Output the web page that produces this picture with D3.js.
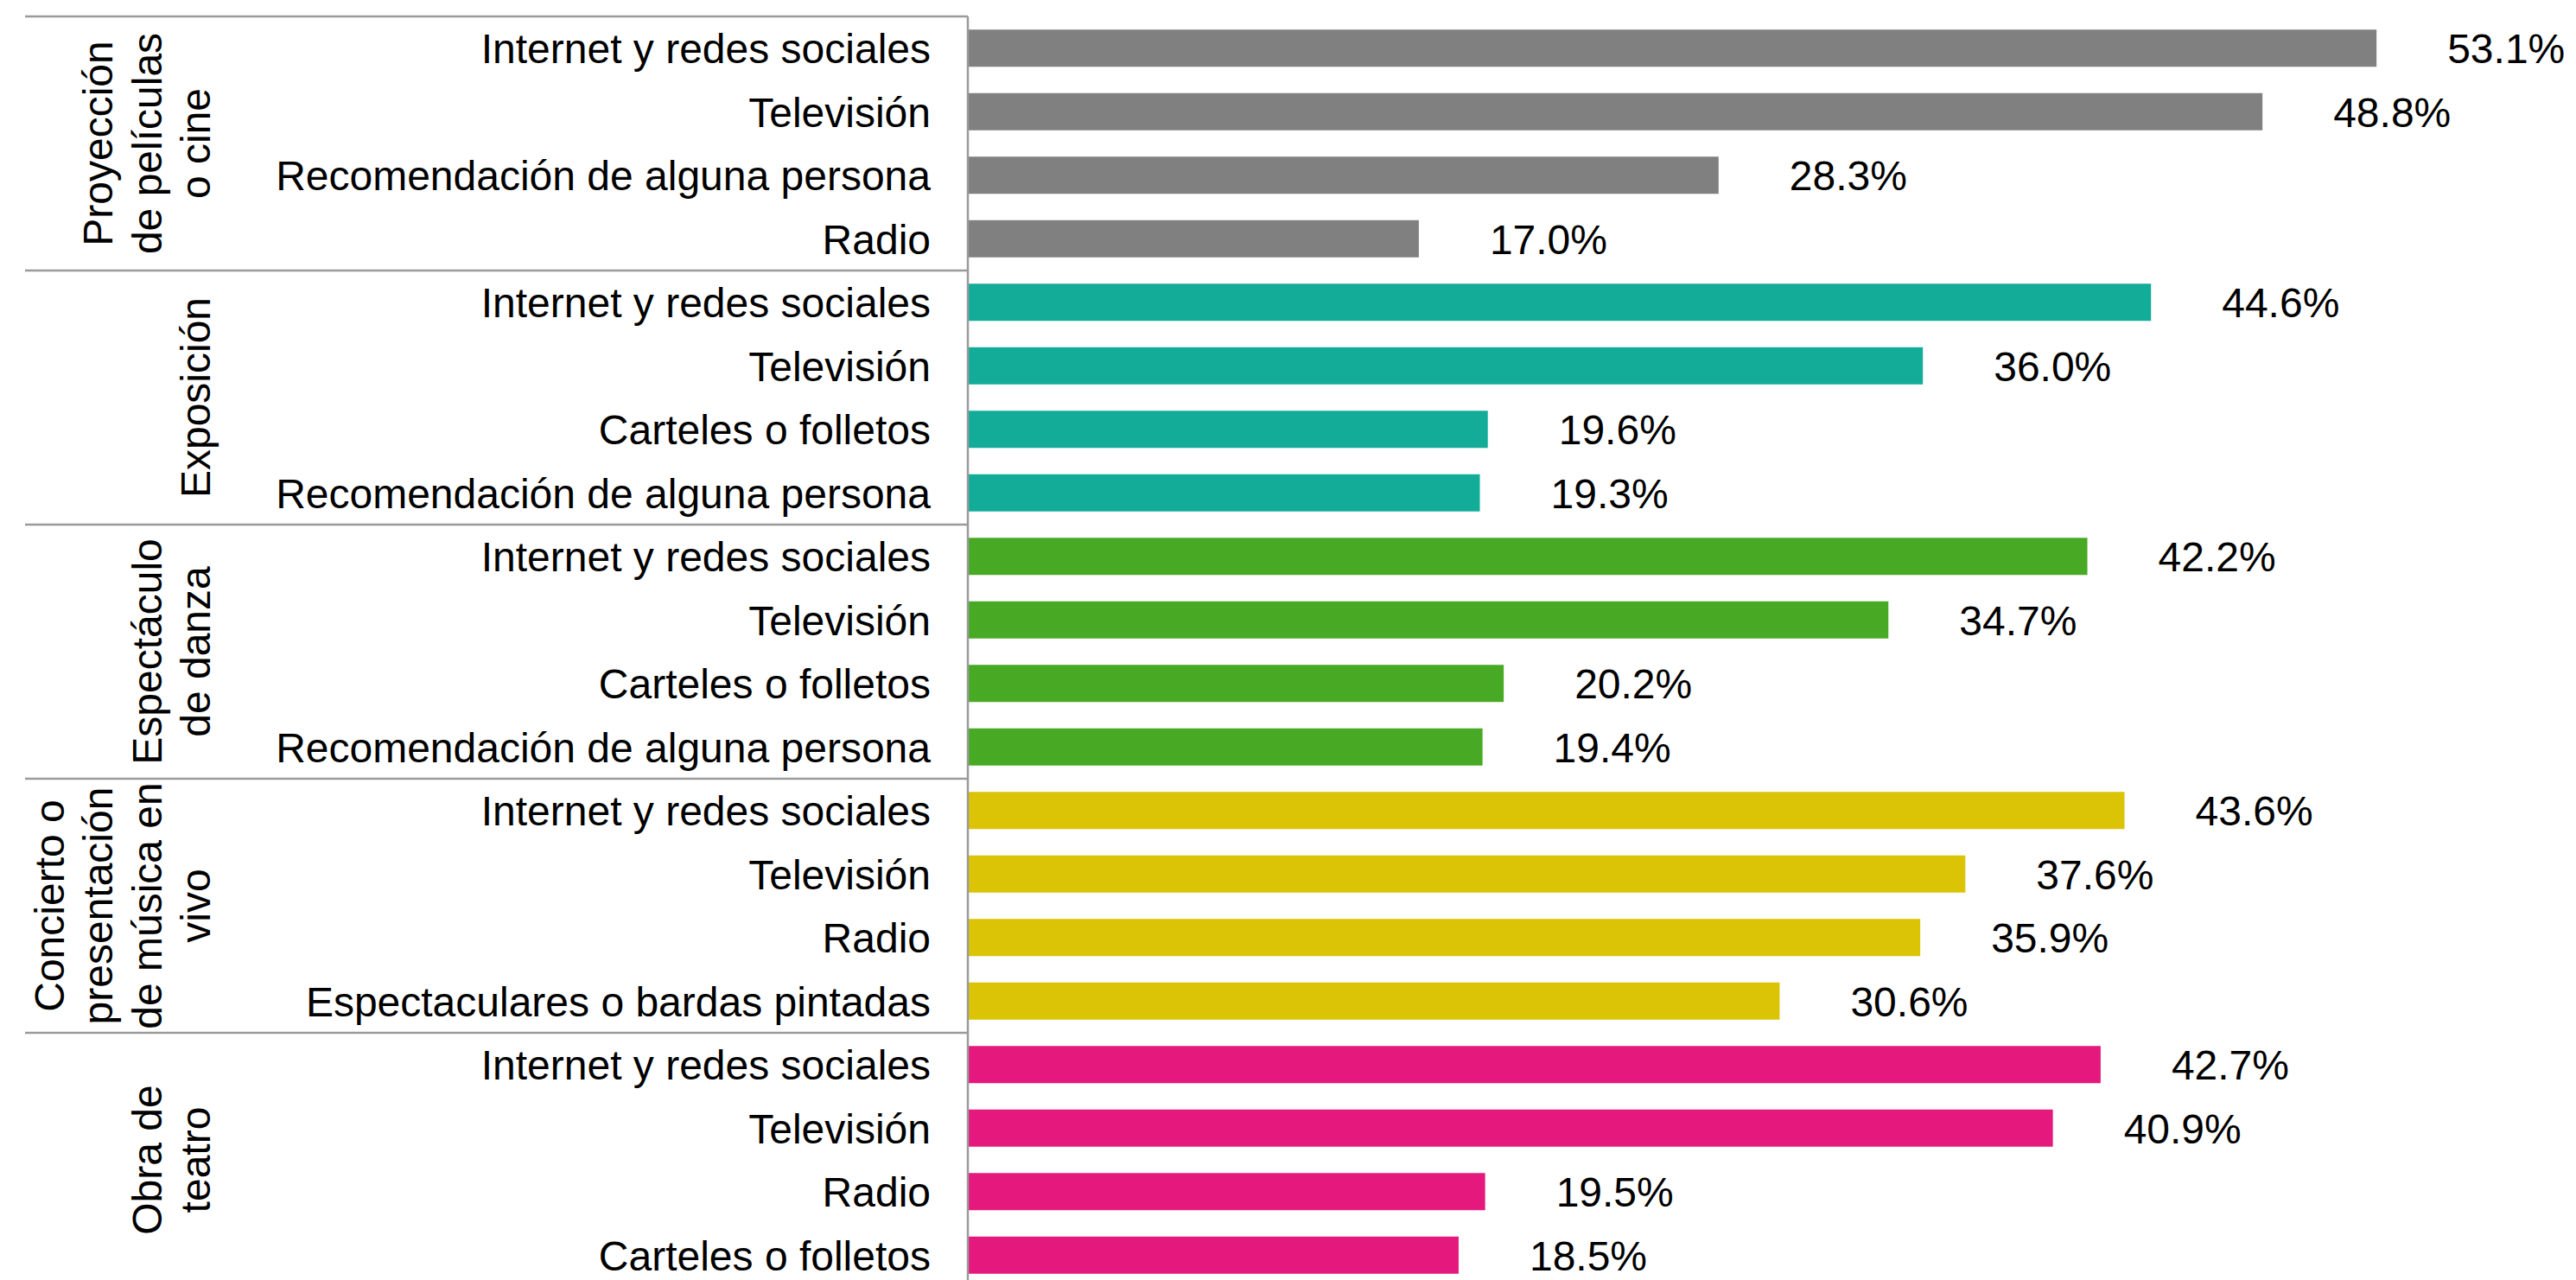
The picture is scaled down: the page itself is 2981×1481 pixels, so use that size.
<!DOCTYPE html>
<html>
<head>
<meta charset="utf-8">
<script src="https://cdn.jsdelivr.net/npm/d3@7"></script>
<style>
  body { margin: 0; background: #fff; }
  text { font-family: "Liberation Sans", Arial, sans-serif; fill: #000; }
</style>
</head>
<body>
<div id="chart"></div>
<script>
// groups (multi-line rotated labels) and their colours
var groups = [
  ["Proyección", "de películas", "o cine"],
  ["Exposición"],
  ["Espectáculo", "de danza"],
  ["Concierto o", "presentación", "de música en", "vivo"],
  ["Obra de", "teatro"]
];
var groupColors = ["#808080", "#12ac99", "#48aa24", "#dac405", "#e5197d"];

// categories per group
var categories = [
  ["Internet y redes sociales", "Televisión", "Recomendación de alguna persona", "Radio"],
  ["Internet y redes sociales", "Televisión", "Carteles o folletos", "Recomendación de alguna persona"],
  ["Internet y redes sociales", "Televisión", "Carteles o folletos", "Recomendación de alguna persona"],
  ["Internet y redes sociales", "Televisión", "Radio", "Espectaculares o bardas pintadas"],
  ["Internet y redes sociales", "Televisión", "Radio", "Carteles o folletos"]
];

// percentages per group
var values = [
  [53.1, 48.8, 28.3, 17.0],
  [44.6, 36.0, 19.6, 19.3],
  [42.2, 34.7, 20.2, 19.4],
  [43.6, 37.6, 35.9, 30.6],
  [42.7, 40.9, 19.5, 18.5]
];

var width = 2981,
    height = 1481;

var top0 = 19, bottom0 = 1489,
    axisX = 1120, leftX = 29;

// flatten into rows
var rows = [];
groups.forEach(function(g, gi) {
  categories[gi].forEach(function(c, ci) {
    rows.push({group: gi, cat: c, value: values[gi][ci], id: gi + "-" + ci});
  });
});

var svg = d3.select("#chart").append("svg")
    .attr("width", width)
    .attr("height", height);

var y = d3.scaleBand()
    .domain(rows.map(function(d) { return d.id; }))
    .range([top0, bottom0])
    .paddingInner(0.415)
    .paddingOuter(0.2075);

var x = d3.scaleLinear()
    .domain([0, 60])
    .range([axisX, axisX + 30.7 * 60]);

var groupH = (bottom0 - top0) / groups.length;
var gy = d3.scaleLinear().domain([0, groups.length]).range([top0, bottom0]);

// bars
svg.selectAll(".bar")
    .data(rows)
  .enter().append("rect")
    .attr("class", "bar")
    .attr("x", x(0))
    .attr("y", function(d) { return y(d.id); })
    .attr("width", function(d) { return x(d.value) - x(0); })
    .attr("height", y.bandwidth())
    .attr("fill", function(d) { return groupColors[d.group]; });

// value labels
svg.selectAll(".val")
    .data(rows)
  .enter().append("text")
    .attr("class", "val")
    .attr("x", function(d) { return x(d.value) + 82; })
    .attr("y", function(d) { return y(d.id) + y.bandwidth() / 2; })
    .attr("dy", "0.36em")
    .style("font-size", "48px")
    .text(function(d) { return d.value.toFixed(1) + "%"; });

// category labels
svg.selectAll(".cat")
    .data(rows)
  .enter().append("text")
    .attr("class", "cat")
    .attr("x", 1077)
    .attr("y", function(d) { return y(d.id) + y.bandwidth() / 2; })
    .attr("dy", "0.36em")
    .attr("text-anchor", "end")
    .style("font-size", "48px")
    .text(function(d) { return d.cat; });

// group separator lines
svg.selectAll(".sep")
    .data(d3.range(groups.length + 1))
  .enter().append("line")
    .attr("class", "sep")
    .attr("x1", leftX)
    .attr("x2", axisX)
    .attr("y1", function(d) { return gy(d); })
    .attr("y2", function(d) { return gy(d); })
    .attr("stroke", "#9a9a9a")
    .attr("stroke-width", 2.5);

// vertical axis line
svg.append("line")
    .attr("x1", axisX).attr("x2", axisX)
    .attr("y1", top0).attr("y2", bottom0)
    .attr("stroke", "#9a9a9a")
    .attr("stroke-width", 2.5);

// rotated group labels
var lineH = 56.5;
groups.forEach(function(lines, gi) {
  var cy = gy(gi) + groupH / 2;
  var t = svg.append("text")
      .attr("transform", "translate(243," + cy + ") rotate(-90)")
      .attr("text-anchor", "middle")
      .style("font-size", "48px");
  lines.forEach(function(l, i) {
    t.append("tspan")
      .attr("x", 0)
      .attr("y", -(lines.length - 1 - i) * lineH)
      .text(l);
  });
});
</script>
</body>
</html>
